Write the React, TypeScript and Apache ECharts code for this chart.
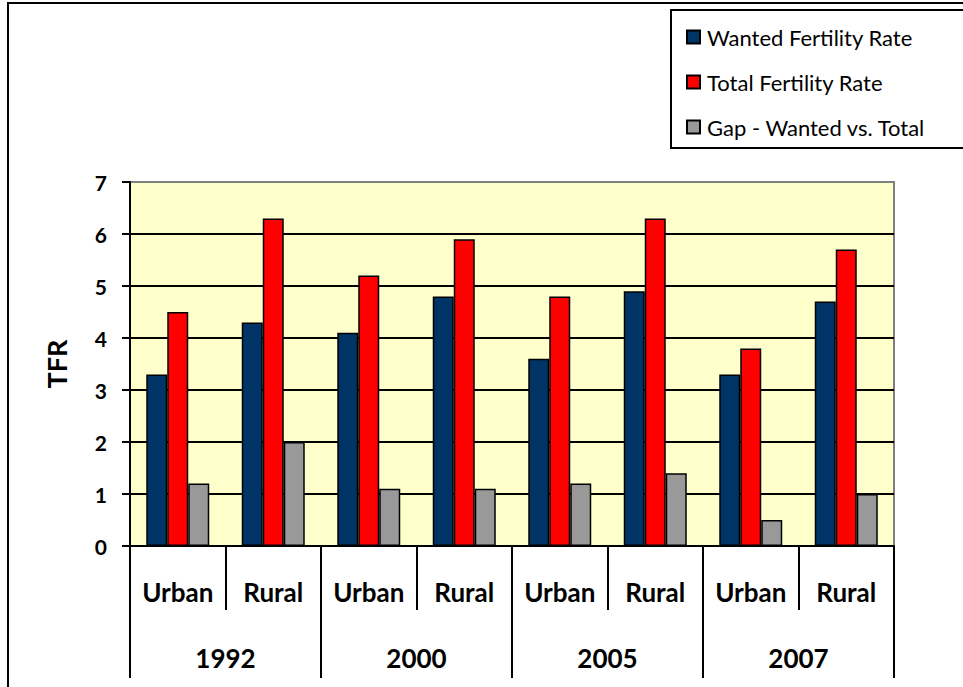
import React, { useEffect, useRef } from "react";
import * as echarts from "echarts";

const categories = ["Urban", "Rural", "Urban", "Rural", "Urban", "Rural", "Urban", "Rural"];
const years = ["1992", "2000", "2005", "2007"];
const wanted = [3.3, 4.3, 4.1, 4.8, 3.6, 4.9, 3.3, 4.7];
const total = [4.5, 6.3, 5.2, 5.9, 4.8, 6.3, 3.8, 5.7];
const gap = [1.2, 2.0, 1.1, 1.1, 1.2, 1.4, 0.5, 1.0];
const seriesNames = ["Wanted Fertility Rate", "Total Fertility Rate", "Gap - Wanted vs. Total"];
const yTicks = [0, 1, 2, 3, 4, 5, 6, 7];

const FONT = "Lato, 'DejaVu Sans', sans-serif";

export default function App() {
  const ref = useRef<HTMLDivElement>(null);
  useEffect(() => {
    if (!ref.current) return;
    const chart = echarts.init(ref.current, null, { renderer: "svg" });
    const bar = (name: string, data: number[], color: string) => ({
      name,
      type: "bar",
      xAxisIndex: 0,
      yAxisIndex: 0,
      data,
      barWidth: 21,
      barGap: "0%",
      itemStyle: { color, borderColor: "#000", borderWidth: 1.5 },
    });
    const xLabel = (margin: number) => ({
      interval: 0,
      margin,
      fontFamily: FONT,
      fontSize: 26,
      fontWeight: "bold",
      color: "#000",
      lineHeight: 26,
    });
    chart.setOption({
      animation: false,
      backgroundColor: "#fff",
      textStyle: { fontFamily: FONT },
      graphic: [
        {
          type: "rect",
          z: 0,
          shape: { x: 8, y: 3, width: 1000, height: 720 },
          style: { fill: "none", stroke: "#000", lineWidth: 2 },
        },
        {
          type: "rect",
          z: 0,
          shape: { x: 671, y: 10, width: 320, height: 138 },
          style: { fill: "#fff", stroke: "#000", lineWidth: 2 },
        },
      ],
      legend: {
        orient: "vertical",
        left: 681,
        top: 21,
        itemWidth: 13,
        itemHeight: 13,
        itemGap: 23,
        icon: "rect",
        data: seriesNames,
        textStyle: { fontFamily: FONT, fontSize: 22, color: "#000", padding: [0, 0, 0, 2] },
      },
      grid: {
        left: 130,
        top: 182,
        width: 764,
        height: 364,
        show: true,
        backgroundColor: "#FFFFCC",
        borderColor: "#808080",
        borderWidth: 2,
      },
      xAxis: [
        {
          type: "category",
          data: categories,
          position: "bottom",
          axisLine: { show: true, lineStyle: { color: "#000", width: 2 } },
          axisTick: { show: true, length: 64, interval: 0, lineStyle: { color: "#000", width: 2 } },
          axisLabel: xLabel(33),
          splitLine: { show: false },
        },
        {
          type: "category",
          data: years,
          position: "bottom",
          offset: 0,
          axisLine: { show: false },
          axisTick: { show: true, length: 132, interval: 0, lineStyle: { color: "#000", width: 2 } },
          axisLabel: xLabel(99),
          splitLine: { show: false },
        },
      ],
      yAxis: {
        type: "value",
        min: yTicks[0],
        max: yTicks[yTicks.length - 1],
        interval: 1,
        name: "TFR",
        nameLocation: "middle",
        nameRotate: 90,
        nameGap: 60,
        nameTextStyle: { fontFamily: FONT, fontSize: 27, fontWeight: "bold", color: "#000" },
        axisLine: { show: true, lineStyle: { color: "#000", width: 2 } },
        axisTick: { show: true, length: 8, lineStyle: { color: "#000", width: 2 } },
        axisLabel: { margin: 23, fontFamily: FONT, fontSize: 21, fontWeight: "bold", color: "#000" },
        splitLine: {
          show: true,
          lineStyle: { color: ["#000", "#000", "#000", "#000", "#000", "#000", "#000", "#808080"], width: 2 },
        },
      },
      series: [
        bar(seriesNames[0], wanted, "#003366"),
        bar(seriesNames[1], total, "#FF0000"),
        bar(seriesNames[2], gap, "#999999"),
      ],
    });
    return () => chart.dispose();
  }, []);
  return <div ref={ref} style={{ position: "fixed", left: 0, top: 0, width: 963, height: 687 }} />;
}
